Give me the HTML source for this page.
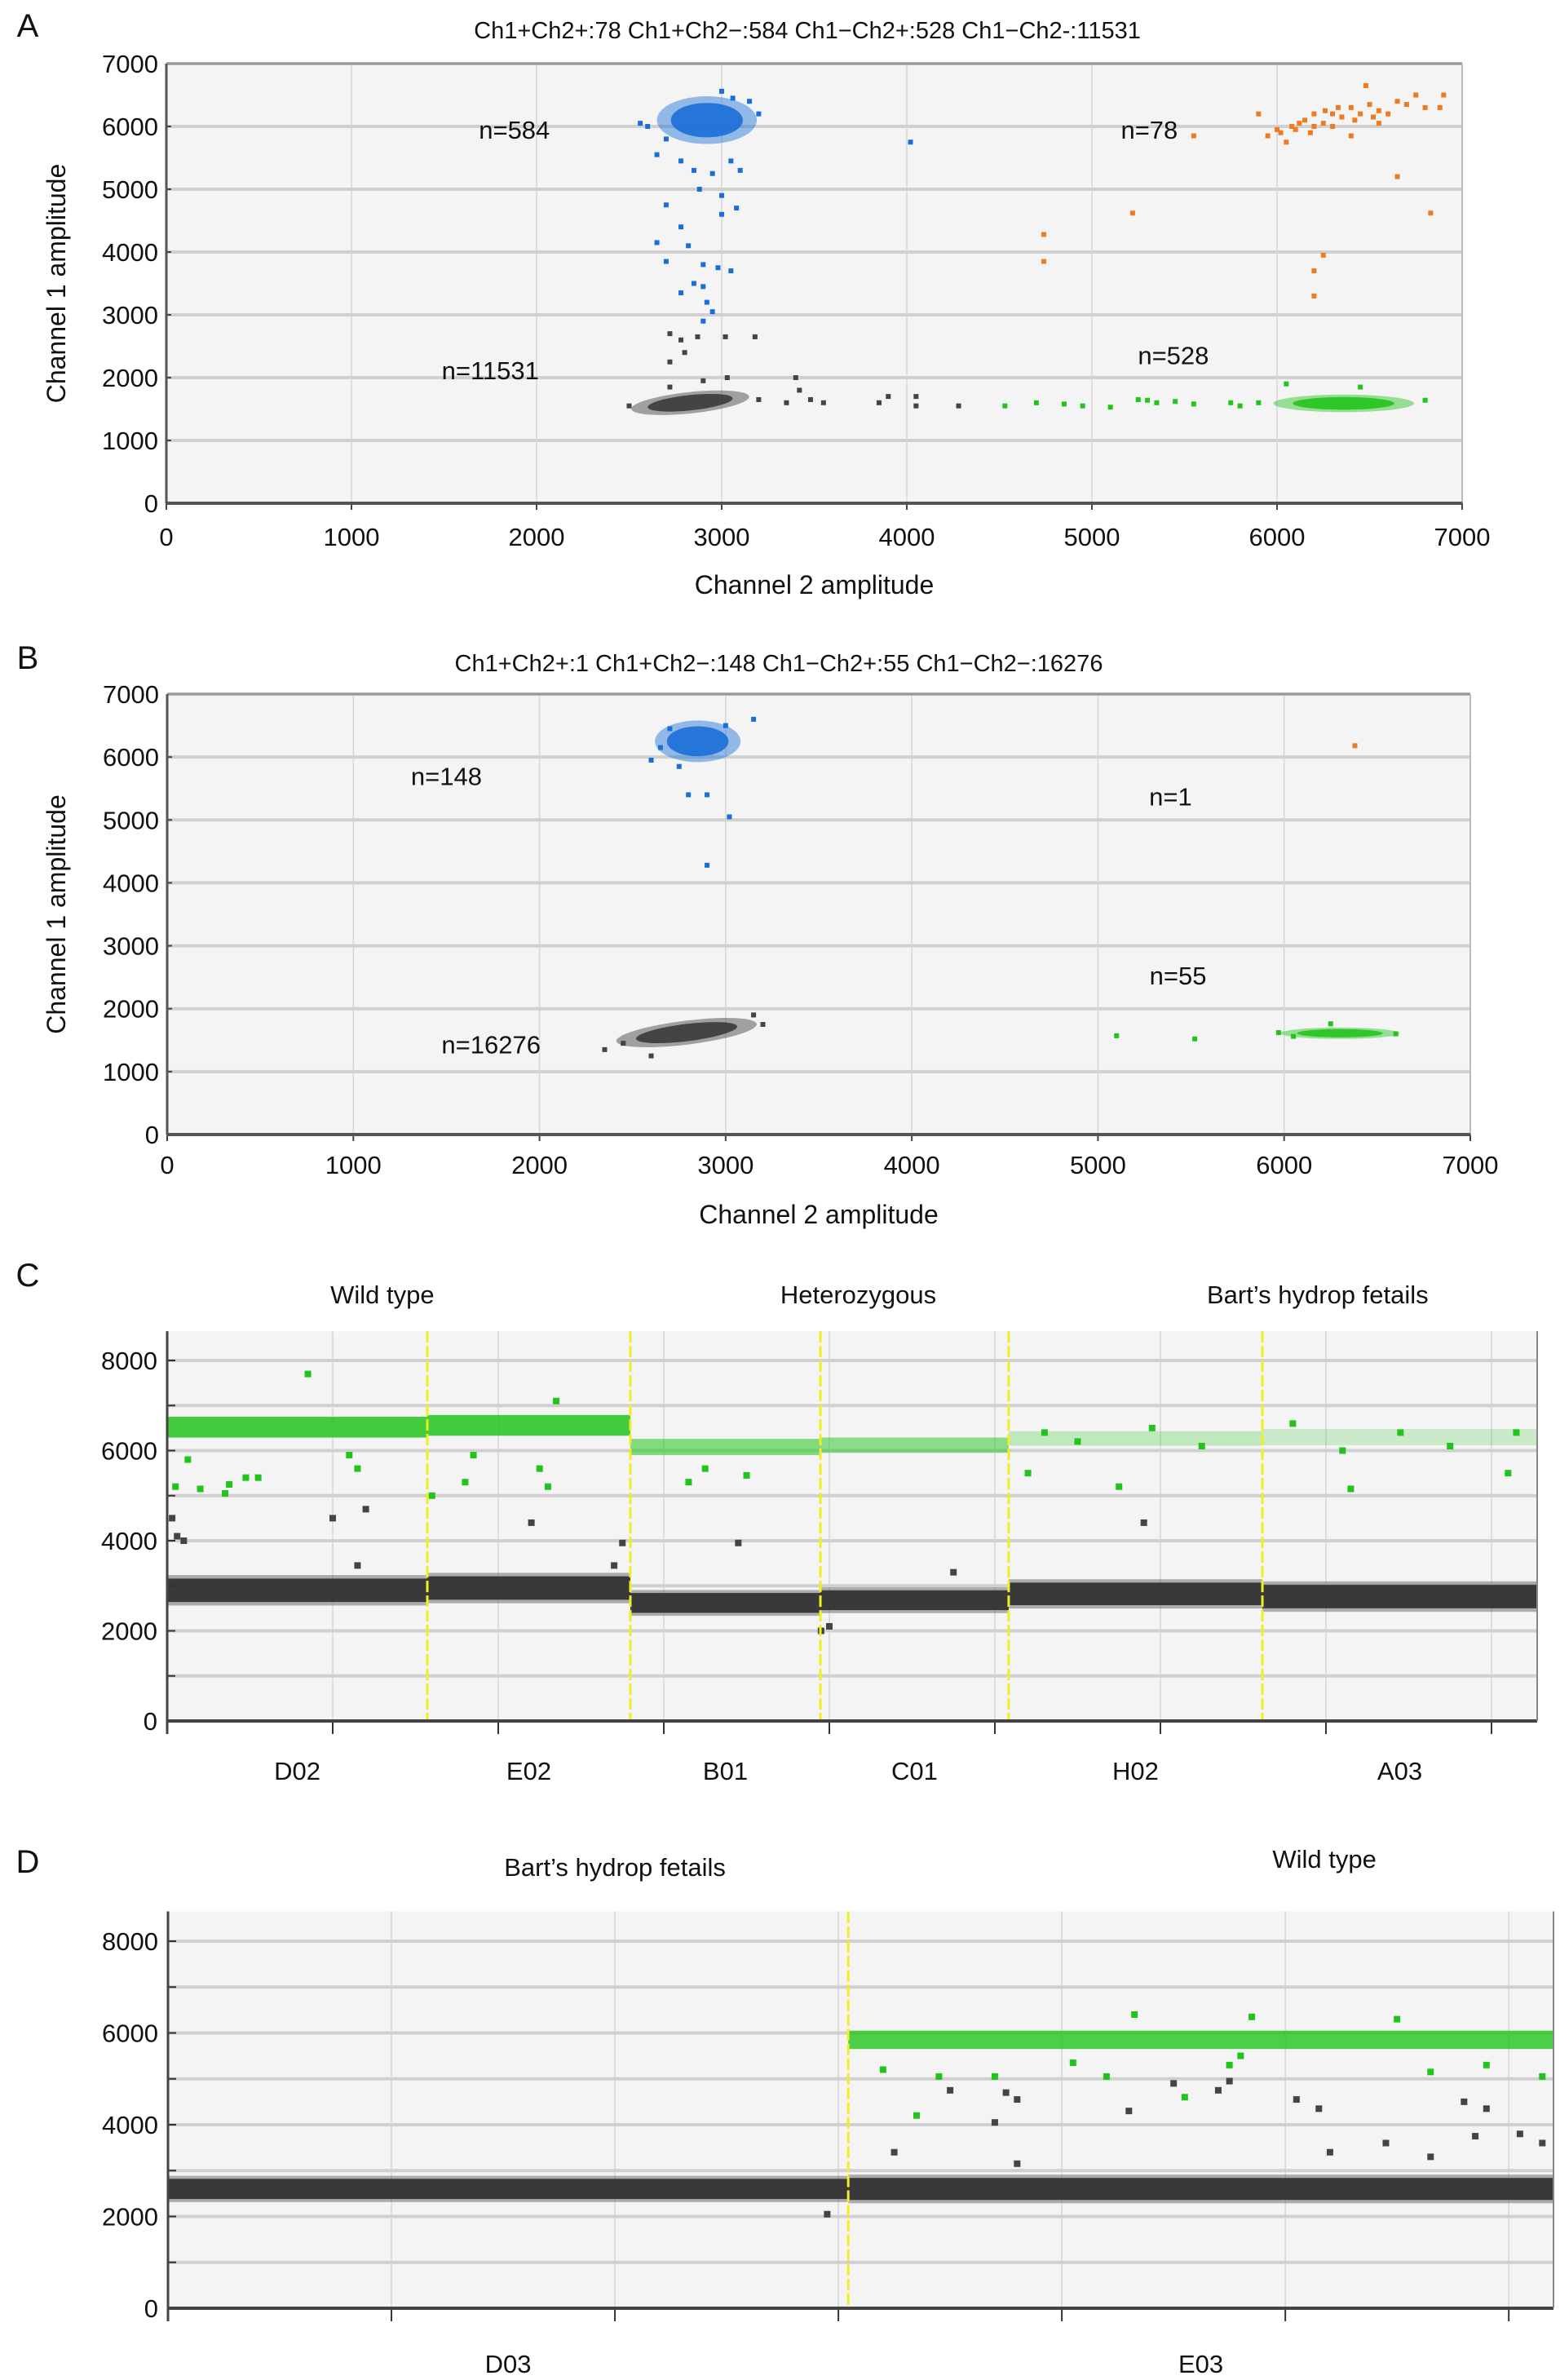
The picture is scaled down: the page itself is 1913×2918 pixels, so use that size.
<!DOCTYPE html>
<html><head><meta charset="utf-8">
<style>
html,body{margin:0;padding:0;background:#fff;}
svg{display:block;font-family:"Liberation Sans",Arial,sans-serif;}
</style></head>
<body>
<svg id="fig" width="1913" height="2918" viewBox="0 0 1913 2918" xmlns="http://www.w3.org/2000/svg"></svg>
<script>
// ---------- Panel A data ----------
const aTicks = [0,1000,2000,3000,4000,5000,6000,7000];
const aClusters = [ // [cx, cy, rx, ry, color, tilt]
  [2920,6100,270,380,'#1a6fd6',0],
  [2830,1600,320,170,'#3a3a3a',-6],
  [6360,1590,380,140,'#22c41c',0]
];
const aBlue = [[2650,5550],[2700,5800],[2780,5450],[2850,5300],[2950,5250],[3050,5450],[3100,5300],[2880,5000],[3000,4900],[2700,4750],[3000,4600],[3080,4700],[2780,4400],[2650,4150],[2820,4100],[2700,3850],[2900,3800],[2980,3750],[3050,3700],[2850,3500],[2780,3350],[2900,3450],[2920,3200],[2950,3050],[2900,2900],[4020,5750],[3200,6200],[3150,6400],[2600,6000],[2560,6050],[3060,6450],[3000,6560]];
const aGray = [[2720,2700],[2780,2600],[2870,2650],[3020,2650],[3180,2650],[2800,2400],[2720,2250],[3030,2000],[2720,1850],[2900,1950],[3400,2000],[3420,1800],[3480,1650],[3550,1600],[3350,1600],[3850,1600],[3900,1700],[4050,1700],[4050,1550],[4280,1550],[2500,1550],[3200,1650]];
const aGreen = [[4530,1550],[4700,1600],[4850,1580],[4950,1550],[5100,1530],[5250,1650],[5350,1600],[5450,1620],[5550,1580],[5750,1600],[5900,1600],[6050,1900],[6450,1850],[6800,1640],[5800,1550],[5300,1640]];
const aOrange = [[5900,6200],[5950,5850],[6000,5950],[6050,5750],[6080,6000],[6100,5950],[6150,6100],[6200,6000],[6200,6200],[6250,6050],[6300,6200],[6300,6000],[6350,6150],[6400,6300],[6400,5850],[6450,6200],[6480,6650],[6500,6350],[6550,6250],[6550,6050],[6600,6200],[6650,6400],[6700,6350],[6750,6500],[6800,6300],[6900,6500],[6880,6300],[6120,6050],[6180,5900],[6260,6250],[6330,6300],[6420,6100],[6520,6150],[6020,5900],[5550,5850],[4740,4280],[4740,3850],[5220,4620],[6650,5200],[6830,4620],[6250,3950],[6200,3700],[6200,3300]];
const aLabels = [['n=584',1880,5950],['n=78',5310,5950],['n=11531',1750,2120],['n=528',5440,2360]];
// ---------- Panel B data ----------
const bClusters = [
  [2850,6250,230,330,'#1a6fd6',0],
  [2790,1620,380,190,'#3a3a3a',-7],
  [6300,1610,320,90,'#22c41c',0]
];
const bBlue = [[2600,5950],[2650,6150],[3150,6600],[2800,5400],[2900,5400],[3020,5050],[2900,4280],[2700,6450],[3000,6500],[2750,5850]];
const bGray = [[2350,1350],[2600,1250],[3200,1750],[3150,1900],[2450,1450]];
const bGreen = [[5100,1570],[5520,1520],[5970,1620],[6250,1760],[6600,1600],[6050,1560]];
const bOrange = [[6380,6180]];
const bLabels = [['n=148',1500,5700],['n=1',5390,5370],['n=55',5430,2530],['n=16276',1740,1430]];
// ---------- Panel C data ----------
const cYTicks = [0,2000,4000,6000,8000];
const cWells = ['D02','E02','B01','C01','H02','A03'];
const cStart = [0,3143,5596,7892,10167,13232];
const cEnd = [3143,5596,7892,10167,13232,16552];
const cGreenMean = [6520,6560,6080,6120,6270,6300];
const cGreenSpread = [230,230,180,170,160,180];
const cGreenDensity = [0.85,0.85,0.55,0.5,0.25,0.2];
const cBlackMean = [2900,2950,2620,2680,2820,2760];
const cBlackSpread = [260,260,220,220,250,260];
const cGroups = [['Wild type',2600],['Heterozygous',8350],['Bart\u2019s hydrop fetails',13900]];
const cDividers = [3143,5596,7892,10167,13232];
const cGreenOut = [[100,5200],[250,5800],[400,5150],[700,5050],[750,5250],[950,5400],[1100,5400],[2200,5900],[2300,5600],[3200,5000],[3600,5300],[3700,5900],[4500,5600],[4600,5200],[6300,5300],[6500,5600],[7000,5450],[10400,5500],[11500,5200],[14300,5150],[16200,5500],[1700,7700],[4700,7100],[10600,6400],[11000,6200],[11900,6500],[12500,6100],[13600,6600],[14200,6000],[14900,6400],[15500,6100],[16300,6400]];
const cGrayOut = [[60,4500],[120,4100],[200,4000],[2000,4500],[2400,4700],[4400,4400],[5500,3950],[6900,3950],[8000,2100],[7900,2000],[9500,3300],[11800,4400],[2300,3450],[5400,3450]];
const cXTickStep = 2000;
// ---------- Panel D data ----------
const dWells = ['D03','E03'];
const dStart = [0,6088];
const dEnd = [6088,12400];
const dGreenMean = [null,5850];
const dGreenSpread = [0,200];
const dGreenDensity = [0,0.8];
const dBlackMean = [2600,2600];
const dBlackSpread = [220,240];
const dGroups = [['Bart\u2019s hydrop fetails',4000],['Wild type',10350]];
const dDividers = [6088];
const dGreenOut = [[6400,5200],[6700,4200],[6900,5050],[7400,5050],[8100,5350],[8400,5050],[9100,4600],[9500,5300],[9600,5500],[11300,5150],[11800,5300],[12300,5050],[8650,6400],[9700,6350],[11000,6300]];
const dGrayOut = [[6500,3400],[7000,4750],[7400,4050],[7500,4700],[7600,4550],[7600,3150],[8600,4300],[9000,4900],[9400,4750],[9500,4950],[10100,4550],[10300,4350],[10400,3400],[10900,3600],[11300,3300],[11600,4500],[11700,3750],[11800,4350],[12100,3800],[12300,3600],[5900,2050]];
const dXTickStep = 2000;

const NS='http://www.w3.org/2000/svg';
const svg=document.getElementById('fig');
function mk(tag,attrs,parent){const e=document.createElementNS(NS,tag);for(const k in attrs)e.setAttribute(k,attrs[k]);(parent||svg).appendChild(e);return e;}
function txt(s,x,y,size,anchor,parent,name){const t=mk('text',{x:x,y:y,'font-size':size,'text-anchor':anchor||'middle',fill:'#111'},parent);t.textContent=s;

return t;}
function lin(d0,d1,r0,r1){return v=>r0+(v-d0)/(d1-d0)*(r1-r0);}

function scatter(P){
  const g=mk('g',{});
  
  
  const X=lin(0,7000,P.x0,P.x1), Y=lin(0,7000,P.y0,P.y1);
  const bg=mk('rect',{x:P.x0,y:P.y1,width:P.x1-P.x0,height:P.y0-P.y1,fill:'#f4f4f4'},g);
  
  
  aTicks.forEach(t=>{
    if(t>0&&t<7000){const l=mk('line',{x1:X(t),x2:X(t),y1:P.y1,y2:P.y0,stroke:'#d6d6d6','stroke-width':1.5},g);
    
    }
    const h=mk('line',{x1:P.x0,x2:P.x1,y1:Y(t),y2:Y(t),stroke:'#d0d0d0','stroke-width':4},g);
    
    
    txt(String(t),X(t),P.xtl,31,'middle',g,'x-tick-label');
    txt(String(t),P.x0-10,Y(t)+11,31,'end',g,'y-tick-label');
    mk('line',{x1:X(t),x2:X(t),y1:P.y0,y2:P.y0+8,stroke:'#444','stroke-width':2},g);
    mk('line',{x1:P.x0,x2:P.x0+6,y1:Y(t),y2:Y(t),stroke:'#444','stroke-width':2},g);
  });
  mk('line',{x1:P.x0,x2:P.x1,y1:P.y1,y2:P.y1,stroke:'#999','stroke-width':3},g);
  mk('line',{x1:P.x1,x2:P.x1,y1:P.y1,y2:P.y0,stroke:'#bbb','stroke-width':2},g);
  mk('line',{x1:P.x0,x2:P.x1,y1:P.y0,y2:P.y0,stroke:'#555','stroke-width':4},g);
  mk('line',{x1:P.x0,x2:P.x0,y1:P.y1,y2:P.y0,stroke:'#555','stroke-width':3},g);
  P.clusters.forEach(c=>{
    const cx=X(c[0]),cy=Y(c[1]),rx=X(c[0]+c[2])-cx,ry=cy-Y(c[1]+c[3]);
    const tr='rotate('+c[5]+' '+cx+' '+cy+')';
    const e=mk('ellipse',{cx:cx,cy:cy,rx:rx,ry:ry,fill:c[4],opacity:0.45,transform:tr},g);
    
    
    const e2=mk('ellipse',{cx:cx,cy:cy,rx:rx*0.72,ry:ry*0.72,fill:c[4],opacity:0.9,transform:tr},g);
    
    
  });
  [[P.blue,'#1a6fd6'],[P.gray,'#444'],[P.green,'#22c41c'],[P.orange,'#ee7a22']].forEach(s=>{
    s[0].forEach(p=>{const r=mk('rect',{x:X(p[0])-3,y:Y(p[1])-3,width:6,height:6,fill:s[1]},g);
      
      });
  });
  P.labels.forEach(l=>txt(l[0],X(l[1]),Y(l[2])+11,31,'middle',g,'cluster-count-label'));
  txt(P.title,P.tx,P.ty,29,'middle',g,'chart-title');
  txt('Channel 2 amplitude',(P.x0+P.x1)/2,P.xat,32,'middle',g,'x-axis-title');
  const yt=txt('Channel 1 amplitude',0,0,32,'middle',g,'y-axis-title');
  yt.setAttribute('transform','translate(80,'+((P.y0+P.y1)/2)+') rotate(-90)');
  txt(P.letter,34,P.ly,40,'middle',g,'panel-letter');
}
scatter({name:'panel-a-scatter',x0:204,x1:1793,y0:617,y1:78,xtl:669,xat:728,clusters:aClusters,blue:aBlue,gray:aGray,green:aGreen,orange:aOrange,labels:aLabels,
  title:'Ch1+Ch2+:78 Ch1+Ch2\u2212:584 Ch1\u2212Ch2+:528 Ch1\u2212Ch2-:11531',tx:990,ty:47,letter:'A',ly:45});
scatter({name:'panel-b-scatter',x0:205,x1:1803,y0:1391,y1:851,xtl:1439,xat:1500,clusters:bClusters,blue:bBlue,gray:bGray,green:bGreen,orange:bOrange,labels:bLabels,
  title:'Ch1+Ch2+:1 Ch1+Ch2\u2212:148 Ch1\u2212Ch2+:55 Ch1\u2212Ch2\u2212:16276',tx:955,ty:823,letter:'B',ly:820});

function events(P){
  const g=mk('g',{});
  
  
  const X=lin(0,P.xmax,P.x0,P.x1), Y=lin(0,8000,P.y0,P.y8);
  const top=Y(8650);
  const bg=mk('rect',{x:P.x0,y:top,width:P.x1-P.x0,height:P.y0-top,fill:'#f4f4f4'},g);
  
  
  for(let t=P.step;t<P.xmax;t+=P.step){
    const l=mk('line',{x1:X(t),x2:X(t),y1:top,y2:P.y0,stroke:'#d6d6d6','stroke-width':1.5},g);
    
    
    mk('line',{x1:X(t),x2:X(t),y1:P.y0,y2:P.y0+16,stroke:'#333','stroke-width':2},g);
  }
  for(let v=1000;v<=8000;v+=1000){
    const h=mk('line',{x1:P.x0,x2:P.x1,y1:Y(v),y2:Y(v),stroke:'#d0d0d0','stroke-width':4},g);
    
    
    mk('line',{x1:P.x0,x2:P.x0+10,y1:Y(v),y2:Y(v),stroke:'#333','stroke-width':2},g);
  }
  cYTicks.forEach(v=>txt(String(v),P.x0-12,Y(v)+11,31,'end',g,'y-tick-label'));
  P.start.forEach((s,i)=>{
    const x=X(s),w=X(P.end[i])-x;
    if(P.gm[i]!==null){
      const r=mk('rect',{x:x,y:Y(P.gm[i]+P.gs[i]),width:w,height:Y(P.gm[i]-P.gs[i])-Y(P.gm[i]+P.gs[i]),fill:'#22c41c',opacity:P.gd[i]},g);
      
      
    }
    const b2=mk('rect',{x:x,y:Y(P.bm[i]+P.bs[i]*1.3),width:w,height:Y(P.bm[i]-P.bs[i]*1.3)-Y(P.bm[i]+P.bs[i]*1.3),fill:'#555',opacity:0.45},g);
    
    
    const b=mk('rect',{x:x,y:Y(P.bm[i]+P.bs[i]),width:w,height:Y(P.bm[i]-P.bs[i])-Y(P.bm[i]+P.bs[i]),fill:'#333',opacity:0.95},g);
    
    
    txt(P.wells[i],X((s+P.end[i])/2),P.wlY,31,'middle',g,'well-label');
  });
  [[P.go,'#22c41c'],[P.ko,'#444']].forEach(s=>s[0].forEach(p=>{
    const r=mk('rect',{x:X(p[0])-4,y:Y(p[1])-4,width:8,height:8,fill:s[1]},g);
    
    
  }));
  P.div.forEach(d=>{
    const l=mk('line',{x1:X(d),x2:X(d),y1:top,y2:P.y0,stroke:'#f2ee20','stroke-width':3,'stroke-dasharray':'14 4'},g);
    
    
  });
  mk('line',{x1:P.x0,x2:P.x1,y1:P.y0,y2:P.y0,stroke:'#444','stroke-width':4},g);
  mk('line',{x1:P.x0,x2:P.x0,y1:top,y2:P.y0+16,stroke:'#444','stroke-width':3},g);
  mk('line',{x1:P.x1,x2:P.x1,y1:top,y2:P.y0,stroke:'#888','stroke-width':2},g);
  P.groups.forEach(gr=>txt(gr[0],X(gr[1]),gr[2]||P.gY,31,'middle',g,'genotype-label'));
  txt(P.letter,34,P.ly,40,'middle',g,'panel-letter');
}
events({name:'panel-c-events',x0:205,x1:1885,y0:2110,y8:1668,xmax:16552,step:cXTickStep,start:cStart,end:cEnd,gm:cGreenMean,gs:cGreenSpread,gd:cGreenDensity,bm:cBlackMean,bs:cBlackSpread,wells:cWells,go:cGreenOut,ko:cGrayOut,div:cDividers,groups:cGroups,gY:1598,wlY:2182,letter:'C',ly:1577});
events({name:'panel-d-events',x0:206,x1:1905,y0:2830,y8:2380,xmax:12400,step:dXTickStep,start:dStart,end:dEnd,gm:dGreenMean,gs:dGreenSpread,gd:dGreenDensity,bm:dBlackMean,bs:dBlackSpread,wells:dWells,go:dGreenOut,ko:dGrayOut,div:dDividers,groups:[[dGroups[0][0],dGroups[0][1],2300],[dGroups[1][0],dGroups[1][1],2290]],gY:2300,wlY:2909,letter:'D',ly:2296});
</script>
</body></html>
